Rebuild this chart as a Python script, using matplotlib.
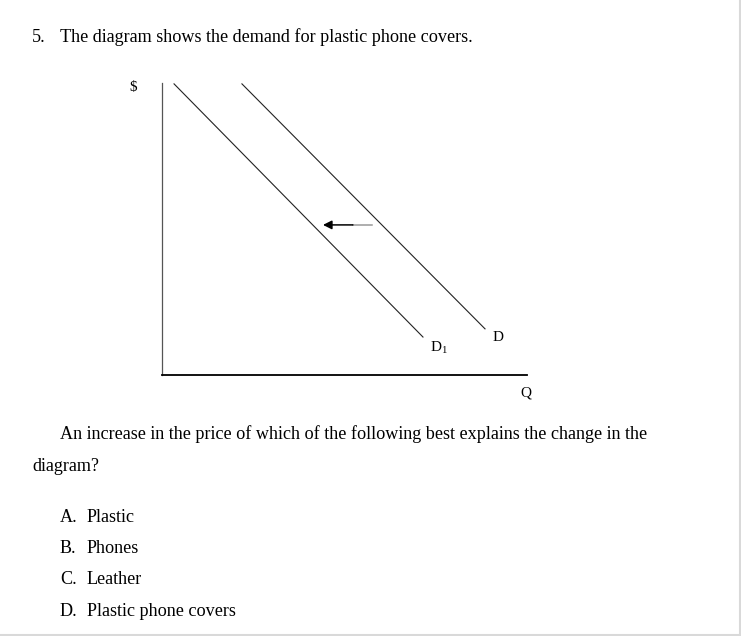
import matplotlib
matplotlib.use("Agg")
import matplotlib.pyplot as plt
from matplotlib.lines import Line2D

# ---- data ----
question_number = "5."
question_title = "The diagram shows the demand for plastic phone covers."
prompt_line1 = "An increase in the price of which of the following best explains the change in the"
prompt_line2 = "diagram?"
option_letters = ["A.", "B.", "C.", "D."]
option_texts = ["Plastic", "Phones", "Leather", "Plastic phone covers"]

# demand curves (quantity, price) in diagram units 0..100
d1_q = [3.3, 71.5]
d1_p = [99.7, 13.0]
d_q = [21.9, 88.5]
d_p = [99.7, 15.8]
shift_from_q, shift_to_q, shift_p = 57.5, 44.1, 51.4

W, H = 741, 636
fig = plt.figure(figsize=(W / 100, H / 100), dpi=100)
FONT = "Liberation Serif"
TS = 13.1

def fx(x):
    return x / W

def fy(y):
    return 1 - y / H

# header
fig.text(fx(32), fy(42), question_number, fontsize=TS, family=FONT, va="baseline")
fig.text(fx(60), fy(42), question_title, fontsize=TS, family=FONT, va="baseline")

# diagram axes
ax = fig.add_axes([fx(162), fy(375), 365 / W, 292 / H])
ax.set_xlim(0, 100)
ax.set_ylim(0, 100)
ax.set_xticks([])
ax.set_yticks([])
for s in ["top", "right"]:
    ax.spines[s].set_visible(False)
ax.spines["left"].set_color("#555555")
ax.spines["left"].set_linewidth(0.9)
ax.spines["bottom"].set_color("#000000")
ax.spines["bottom"].set_linewidth(1.3)
ax.patch.set_alpha(0)

ax.plot(d1_q, d1_p, color="#222222", lw=0.8)
ax.plot(d_q, d_p, color="#222222", lw=0.8)
ax.plot([shift_from_q, shift_from_q - 5.2], [shift_p, shift_p], color="#999999", lw=1.1)
ax.annotate("", xy=(shift_to_q, shift_p), xytext=(shift_from_q - 5.2, shift_p),
            arrowprops=dict(arrowstyle="-|>", color="black", lw=1.1,
                            mutation_scale=13, shrinkA=0, shrinkB=0))

LS = 11
ax.text(92, 12.7, "D", fontsize=LS, family=FONT, ha="center", va="center")
ax.text(75.8, 9.3, r"D$_{\mathregular{1}}$", fontsize=LS, family=FONT, ha="center", va="center")
ax.text(99.7, -6.2, "Q", fontsize=LS, family=FONT, ha="center", va="center", clip_on=False)
ax.text(-7.9, 98.3, "$", fontsize=LS, family=FONT, ha="center", va="center", clip_on=False)

# prompt
fig.text(fx(60), fy(439), prompt_line1, fontsize=TS, family=FONT, va="baseline")
fig.text(fx(32), fy(471), prompt_line2, fontsize=TS, family=FONT, va="baseline")

base_y = [521.7, 553, 584, 616]
for letter, txt, by in zip(option_letters, option_texts, base_y):
    fig.text(fx(60), fy(by), letter, fontsize=TS, family=FONT, va="baseline")
    fig.text(fx(87), fy(by), txt, fontsize=TS, family=FONT, va="baseline")

# page border (right and bottom)
fig.add_artist(Line2D([fx(739.5), fx(739.5)], [0, 1], color="#d9d9d9", lw=1.5))
fig.add_artist(Line2D([0, 1], [fy(634.5), fy(634.5)], color="#d9d9d9", lw=1.5))

fig.savefig("out.png", dpi=100)
